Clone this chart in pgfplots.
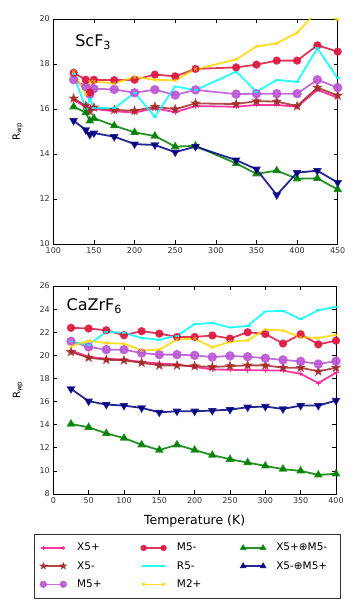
\documentclass[border=0pt]{standalone}
\usepackage{pgfplots}
\pgfplotsset{compat=1.18}
\usepackage{fontspec}
\setmainfont{DejaVu Sans}
\usetikzlibrary{plotmarks}

\definecolor{cXp}{HTML}{FF1493}
\definecolor{cXm}{HTML}{A52A2A}
\definecolor{cMp}{HTML}{BA55D3}
\definecolor{cMm}{HTML}{DC143C}
\definecolor{cR}{HTML}{00FFFF}
\definecolor{cMtwo}{HTML}{FFD700}
\definecolor{cG}{HTML}{008000}
\definecolor{cN}{HTML}{000080}

% filled five-point star (matplotlib '*')
\pgfdeclareplotmark{fstar}{%
  \pgfpathmoveto{\pgfpointpolar{90}{1.3\pgfplotmarksize}}%
  \pgfpathlineto{\pgfpointpolar{126}{0.55\pgfplotmarksize}}%
  \pgfpathlineto{\pgfpointpolar{162}{1.3\pgfplotmarksize}}%
  \pgfpathlineto{\pgfpointpolar{198}{0.55\pgfplotmarksize}}%
  \pgfpathlineto{\pgfpointpolar{234}{1.3\pgfplotmarksize}}%
  \pgfpathlineto{\pgfpointpolar{270}{0.55\pgfplotmarksize}}%
  \pgfpathlineto{\pgfpointpolar{306}{1.3\pgfplotmarksize}}%
  \pgfpathlineto{\pgfpointpolar{342}{0.55\pgfplotmarksize}}%
  \pgfpathlineto{\pgfpointpolar{18}{1.3\pgfplotmarksize}}%
  \pgfpathlineto{\pgfpointpolar{54}{0.55\pgfplotmarksize}}%
  \pgfpathclose
  \pgfusepathqfillstroke}

\pgfplotsset{
  base/.style={
    scale only axis, anchor=south west,
    tick align=inside, tick pos=both,
    major tick length=4pt,
    tick style={black, line width=0.6pt},
    axis line style={line width=0.9pt},
    tick label style={font=\fontsize{8}{9}\selectfont, text=black!80},
    /pgf/number format/assume math mode=true,
    ylabel={R\textsubscript{wp}},
    ylabel style={font=\fontsize{10}{11}\selectfont, at={(axis description cs:-0.125,0.5)}, anchor=center},
    legend image code/.code={\draw[##1, line width=1.5pt, mark options={scale=0.75}] plot coordinates {(0pt,0pt) (20pt,0pt)};},
  },
  ser/.style={line width=1.8pt, opacity=0.85,
    mark options={solid, line width=0.5pt, draw=black!70}},
  sXp/.style={ser, cXp, mark=+, mark size=2.5pt, mark options={draw=cXp, line width=0.7pt}},
  sXm/.style={ser, cXm, mark=fstar, mark size=2.3pt, mark options={fill=cXm}},
  sMp/.style={ser, cMp, mark=*, mark size=3.8pt, mark options={fill=cMp}},
  sMm/.style={ser, cMm, mark=*, mark size=3.2pt, mark options={fill=cMm}},
  sR/.style={ser, cR, mark=-, mark size=2pt, mark options={draw=cR}},
  sMtwo/.style={ser, cMtwo, mark=x, mark size=2.3pt, mark options={draw=cMtwo, line width=0.7pt}},
  sG/.style={ser, cG, mark=triangle*, mark size=3.3pt, mark options={fill=cG}},
  sN/.style={ser, cN, mark=triangle*, mark size=3.3pt, mark options={fill=cN, rotate=180}},
}

\begin{document}
\begin{tikzpicture}
\path[use as bounding box] (0pt,0pt) rectangle (362pt,605pt);

\begin{axis}[base, at={(53.3pt,361pt)}, width=284.4pt, height=225pt,
  xmin=100, xmax=450, ymin=10, ymax=20,
  xtick={100,150,...,450}, ytick={10,12,...,20}]
  \addplot[sXp] coordinates {(125,16.4) (140,16.1) (145,16.05) (150,16.0) (175,15.9) (200,15.84) (225,16.03) (250,15.86) (275,16.13) (325,16.1) (350,16.18) (375,16.18) (400,16.1) (425,16.85) (450,16.5)};
  \addplot[sXm] coordinates {(125,16.47) (140,16.15) (145,15.9) (150,16.07) (175,15.96) (200,15.92) (225,16.1) (250,15.99) (275,16.25) (325,16.22) (350,16.35) (375,16.33) (400,16.13) (425,16.95) (450,16.6)};
  \addplot[sMp] coordinates {(125,17.3) (140,17.0) (145,16.65) (150,16.9) (175,16.87) (200,16.72) (225,16.86) (250,16.62) (275,16.85) (325,16.66) (350,16.68) (375,16.68) (400,16.68) (425,17.3) (450,16.95)};
  \addplot[sMm] coordinates {(125,17.61) (140,17.3) (145,16.73) (150,17.3) (175,17.28) (200,17.3) (225,17.53) (250,17.45) (275,17.78) (325,17.85) (350,17.97) (375,18.15) (400,18.15) (425,18.83) (450,18.55)};
  \addplot[sR] coordinates {(125,17.55) (140,16.0) (145,16.45) (150,16.05) (175,16.03) (200,16.72) (225,15.66) (250,17.0) (275,16.84) (325,17.66) (350,16.77) (375,17.29) (400,17.21) (425,18.7) (450,17.36)};
  \addplot[sMtwo] coordinates {(125,17.66) (140,16.65) (145,17.2) (150,17.22) (175,17.14) (200,17.42) (225,17.3) (250,17.27) (275,17.77) (325,18.2) (350,18.78) (375,18.92) (400,19.39) (425,20.35) (450,19.97)};
  \addplot[sG] coordinates {(125,16.1) (140,15.84) (145,15.47) (150,15.59) (175,15.26) (200,14.96) (225,14.8) (250,14.33) (275,14.36) (325,13.58) (350,13.12) (375,13.26) (400,12.9) (425,12.92) (450,12.42)};
  \addplot[sN] coordinates {(125,15.48) (140,15.07) (145,14.86) (150,14.93) (175,14.77) (200,14.44) (225,14.4) (250,14.08) (275,14.33) (325,13.73) (350,13.32) (375,12.18) (400,13.17) (425,13.26) (450,12.73)};
  \node[anchor=base west, font=\fontsize{16}{18}\selectfont] at (axis description cs:0.065,0.877) {ScF\textsubscript{3}};
\end{axis}

\begin{axis}[base, at={(53.3pt,111pt)}, width=282.7pt, height=208pt,
  xmin=0, xmax=400, ymin=8, ymax=26,
  xtick={0,50,...,400}, ytick={8,10,...,26},
  xlabel={Temperature (K)},
  xlabel style={font=\fontsize{12.5}{14}\selectfont, yshift=-5pt},
  legend columns=3, transpose legend,
  legend style={at={(-0.068,-0.192)}, anchor=north west,
    draw=black!80, line width=0.8pt, font=\fontsize{10.5}{12}\selectfont,
    inner xsep=6pt, inner ysep=7pt, row sep=5pt,
    /tikz/every odd column/.append style={column sep=9pt},
    /tikz/every even column/.append style={column sep=6pt, text width=56pt}},
  legend cell align=left]
  \addplot[sXp] coordinates {(25,20.43) (50,19.86) (75,19.71) (100,19.62) (125,19.42) (150,19.3) (175,19.2) (200,19.0) (225,18.78) (250,18.75) (275,18.72) (300,18.7) (325,18.68) (350,18.4) (375,17.6) (400,18.5)};
  \addlegendentry{X5+}
  \addplot[sXm] coordinates {(25,20.29) (50,19.8) (75,19.62) (100,19.57) (125,19.36) (150,19.13) (175,19.13) (200,19.07) (225,18.99) (250,19.07) (275,19.13) (300,19.13) (325,18.93) (350,18.93) (375,18.61) (400,18.93)};
  \addlegendentry{X5-}
  \addplot[sMp] coordinates {(25,21.22) (50,20.72) (75,20.49) (100,20.49) (125,20.2) (150,20.06) (175,20.06) (200,20.0) (225,19.85) (250,19.95) (275,19.88) (300,19.75) (325,19.6) (350,19.48) (375,19.25) (400,19.5)};
  \addlegendentry{M5+}
  \addplot[sMm] coordinates {(25,22.38) (50,22.32) (75,22.17) (100,21.74) (125,22.09) (150,21.88) (175,21.59) (200,21.59) (225,21.72) (250,21.45) (275,22.0) (300,21.85) (325,21.02) (350,21.82) (375,20.95) (400,21.27)};
  \addlegendentry{M5-}
  \addplot[sR] coordinates {(25,21.2) (50,20.9) (75,22.05) (100,21.95) (125,21.5) (150,21.35) (175,21.7) (200,22.7) (225,22.8) (250,22.4) (275,22.55) (300,23.8) (325,23.85) (350,23.13) (375,23.9) (400,24.2)};
  \addlegendentry{R5-}
  \addplot[sMtwo] coordinates {(25,20.78) (50,21.25) (75,21.07) (100,21.0) (125,20.43) (150,20.5) (175,21.36) (200,21.45) (225,20.7) (250,21.16) (275,21.3) (300,22.23) (325,22.15) (350,21.57) (375,21.5) (400,21.78)};
  \addlegendentry{M2+}
  \addplot[sG] coordinates {(25,14.06) (50,13.77) (75,13.25) (100,12.84) (125,12.26) (150,11.8) (175,12.26) (200,11.8) (225,11.36) (250,11.01) (275,10.72) (300,10.43) (325,10.15) (350,10.0) (375,9.65) (400,9.75)};
  \addlegendentry{X5+⊕M5-}
  \addplot[sN] coordinates {(25,17.1) (50,16.03) (75,15.74) (100,15.65) (125,15.45) (150,15.07) (175,15.16) (200,15.16) (225,15.22) (250,15.3) (275,15.51) (300,15.57) (325,15.36) (350,15.65) (375,15.65) (400,16.09)};
  \addlegendentry{X5-⊕M5+}
  \node[anchor=base west, font=\fontsize{16}{18}\selectfont] at (axis description cs:0.035,0.881) {CaZrF\textsubscript{6}};
\end{axis}
\end{tikzpicture}
\end{document}
